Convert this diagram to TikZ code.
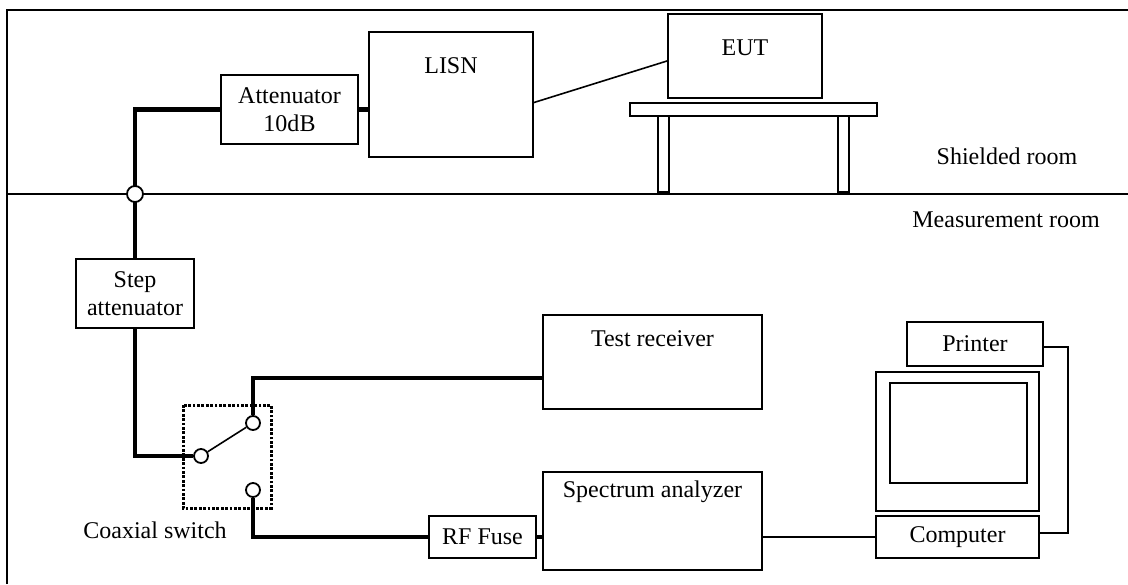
\documentclass[tikz,border=0pt]{standalone}
\usepackage{fontspec}
\setmainfont{Liberation Serif}
\usetikzlibrary{calc}
\begin{document}
\begin{tikzpicture}[x=0.5pt,y=-0.5pt,
  every node/.style={font=\fontsize{12}{14}\selectfont},
  box/.style={draw,line width=1pt,inner sep=0pt,align=center},
  lbl/.style={inner sep=0pt,anchor=base},
  port/.style={draw,circle,fill=white,line width=0.9pt,minimum size=7pt,inner sep=0pt},
  thick line/.style={line width=2.3pt},
  thin line/.style={line width=0.8pt},
  switchbox/.style={draw,line width=1.5pt,dash pattern=on 1.4pt off 0.8pt}]
\useasboundingbox (0,0) rectangle (1128,584);

% outer frame and room divider
\coordinate (frameBL) at (7,584);
\coordinate (frameTL) at (7,10);
\coordinate (frameTR) at (1128,10);
\draw[line width=1.2pt] (frameBL) -- (frameTL) -- (frameTR);
\coordinate (wallL) at (7,194);
\coordinate (wallR) at (1128,194);
\draw[thin line] (wallL) -- (wallR);
\node[lbl] (shield) at (1007,164) {Shielded room};
\node[lbl] (meas) at (1006,227) {Measurement room};

% shielded room equipment
\node[box,minimum width=68.5pt,minimum height=34.5pt] (att) at (289.5,109.5) {Attenuator\\10dB};
\node[box,minimum width=82pt,minimum height=62.5pt] (lisn) at (451,94.5) {};
\node (lisnlbl) at (451,66) {LISN};
\node[box,minimum width=77pt,minimum height=42pt] (eut) at (745,56) {};
\node (eutlbl) at (745,48) {EUT};
% table
\draw[line width=1pt] (630,103) rectangle (877,116);
\draw[line width=1pt] (658,116) rectangle (669,192);
\draw[line width=1pt] (838,116) rectangle (849,192);

% measurement room equipment
\node[box,minimum width=59pt,minimum height=34.5pt] (step) at (135,293.5) {Step\\attenuator};
\node[box,minimum width=109.5pt,minimum height=47pt] (tr) at (652.5,362) {};
\node (trlbl) at (652.5,339) {Test receiver};
\node[box,minimum width=53.5pt,minimum height=21pt] (fuse) at (482.5,537) {RF Fuse};
\node[box,minimum width=109.5pt,minimum height=49pt] (sa) at (652.5,521) {};
\node (salbl) at (652.5,492) {Spectrum analyzer};
\node[box,minimum width=68pt,minimum height=22pt] (printer) at (975,344) {Printer};
\node[box,minimum width=81.5pt,minimum height=69.5pt] (monitor) at (957.5,441.5) {};
\node[box,minimum width=68.5pt,minimum height=50pt] (screen) at (958.5,433) {};
\node[box,minimum width=81.5pt,minimum height=21pt] (comp) at (957.5,537) {Computer};

% coaxial switch
\draw[switchbox] (183,405) rectangle (271,508);
\node (swlbl) at (155,530) {Coaxial switch};
\node[port] (c1) at (201,456) {};
\node[port] (c2) at (253,423) {};
\node[port] (c3) at (253,490) {};

% cabling
\draw[thick line] (step.north) |- (att.west);
\node[port,minimum size=8pt] (feed) at (step.north |- wallL) {};
\draw[thick line] (att.east) -- (att.east -| lisn.west);
\draw[thin line] ([yshift=-4pt]lisn.east) -- ([yshift=-2.5pt]eut.west);
\draw[thick line] (step.south) |- (c1.west);
\draw[thin line] (c1) -- (c2);
\draw[thick line] (c2.north) |- ([yshift=-8pt]tr.west);
\draw[thick line] (c3.south) |- (fuse.west);
\draw[thick line] (fuse.east) -- (fuse.east -| sa.west);
\draw[thin line] (comp.west) -- (comp.west -| sa.east);
\draw[thin line] ([yshift=-1.5pt]printer.east) -- ++(24,0) |- ([yshift=2pt]comp.east);
\end{tikzpicture}
\end{document}
